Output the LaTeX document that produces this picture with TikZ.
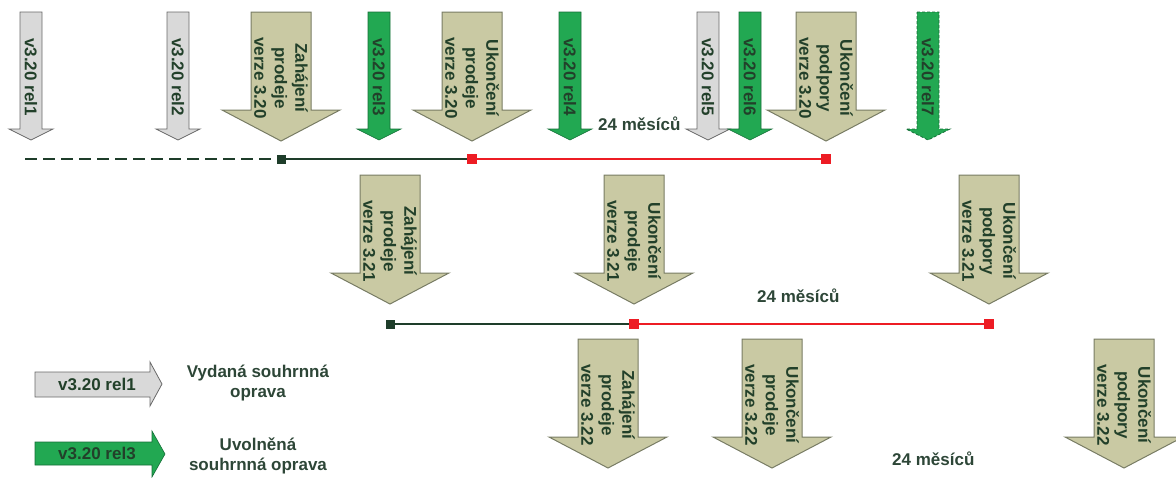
\documentclass[tikz,border=0pt]{standalone}
\usepackage{fontspec}
\setmainfont{Liberation Sans}
\definecolor{tanfill}{RGB}{201,201,163}
\definecolor{tanedge}{RGB}{120,124,100}
\definecolor{relgreen}{RGB}{34,168,82}
\definecolor{greenedge}{RGB}{20,110,55}
\definecolor{relgray}{RGB}{217,217,217}
\definecolor{grayedge}{RGB}{105,105,105}
\definecolor{lineDark}{RGB}{30,61,42}
\definecolor{lineRed}{RGB}{237,28,36}
\definecolor{txt}{RGB}{34,64,42}
\definecolor{labeltxt}{RGB}{45,70,55}
\tikzset{
  every node/.style={font=\bfseries\fontsize{17}{20.5}\selectfont},
  arrowtext/.style={rotate=-90, text=txt, align=center, inner sep=0pt},
  tanbody/.style={fill=tanfill, draw=tanedge, line width=1pt, line join=miter},
  graybody/.style={fill=relgray, draw=grayedge, line width=0.8pt},
  greenbody/.style={fill=relgreen, draw=greenedge, line width=0.6pt},
  dashgreen/.style={fill=relgreen, draw=greenedge, line width=0.8pt, dash pattern=on 3pt off 2pt},
  darksq/.style={rectangle, fill=lineDark, minimum size=9pt, inner sep=0pt},
  redsq/.style={rectangle, fill=lineRed, minimum size=10pt, inner sep=0pt},
  darkline/.style={draw=lineDark, line width=2.6pt},
  redline/.style={draw=lineRed, line width=2.6pt},
  months/.style={text=labeltxt, inner sep=0pt},
  legendtxt/.style={text=labeltxt, align=center, inner sep=0pt},
  % wide milestone arrow, origin at the top centre of the shaft
  pics/milestone/.style={code={
    \path[tanbody] (-30,0) -- (30,0) -- (30,98) -- (59,98) -- (0,129)
      -- (-59,98) -- (-30,98) -- cycle;
    \node[arrowtext] (-t) at (0,66) {#1};
  }},
  % narrow release arrow; first argument is the body style
  pics/release/.style 2 args={code={
    \path[#1] (-11,0) -- (11,0) -- (11,117) -- (22,117) -- (0,128)
      -- (-22,117) -- (-11,117) -- cycle;
    \node[arrowtext] (-t) at (0,65) {#2};
  }},
}
\begin{document}
\begin{tikzpicture}[x=1pt, y=-1pt]
\useasboundingbox (0,0) rectangle (1176,477);

% ---- version 3.20 ----
\pic (r1) at (31,12) {release={graybody}{v3.20 rel1}};
\pic (r2) at (178,12) {release={graybody}{v3.20 rel2}};
\pic (s320) at (281,12) {milestone={Zahájení\\prodeje\\verze 3.20}};
\pic (r3) at (379,12) {release={greenbody}{v3.20 rel3}};
\pic (e320) at (472,12) {milestone={Ukončení\\prodeje\\verze 3.20}};
\pic (r4) at (570,12) {release={greenbody}{v3.20 rel4}};
\pic (r5) at (708,12) {release={graybody}{v3.20 rel5}};
\pic (r6) at (750,12) {release={greenbody}{v3.20 rel6}};
\pic (p320) at (826,12) {milestone={Ukončení\\podpory\\verze 3.20}};
\pic (r7) at (928,12) {release={dashgreen}{v3.20 rel7}};
\node[months, anchor=west] (m1) at (598,124) {24 měsíců};

\coordinate (a0) at (25,159);
\node[darksq] (a1) at (281,159) {};
\node[redsq] (a2) at (472,159) {};
\node[redsq] (a3) at (826,159) {};
\draw[draw=lineDark, line width=2.6pt, dash pattern=on 12pt off 6pt] (a0) -- (a1);
\draw[darkline] (a1) -- (a2);
\draw[redline] (a2) -- (a3);

% ---- version 3.21 ----
\pic (s321) at (390,175) {milestone={Zahájení\\prodeje\\verze 3.21}};
\pic (e321) at (634,175) {milestone={Ukončení\\prodeje\\verze 3.21}};
\pic (p321) at (989,175) {milestone={Ukončení\\podpory\\verze 3.21}};
\node[months, anchor=west] (m2) at (757,296) {24 měsíců};

\node[darksq] (b1) at (390,324) {};
\node[redsq] (b2) at (634,324) {};
\node[redsq] (b3) at (989,324) {};
\draw[darkline] (b1) -- (b2);
\draw[redline] (b2) -- (b3);

% ---- version 3.22 ----
\pic (s322) at (608,339) {milestone={Zahájení\\prodeje\\verze 3.22}};
\pic (e322) at (772,339) {milestone={Ukončení\\prodeje\\verze 3.22}};
\pic (p322) at (1124,339) {milestone={Ukončení\\podpory\\verze 3.22}};
\node[months, anchor=west] (m3) at (892,459) {24 měsíců};

% ---- legend ----
\path[graybody] (35,372) -- (150,372) -- (150,362) -- (162,384) -- (150,406)
  -- (150,397) -- (35,397) -- cycle;
\node[text=txt, inner sep=0pt] (lg1) at (97,384.5) {v3.20 rel1};
\node[legendtxt] (lt1) at (258,383) {Vydaná souhrnná\\oprava};

\path[greenbody] (35,442) -- (152,442) -- (152,431) -- (165,454) -- (152,477)
  -- (152,465) -- (35,465) -- cycle;
\node[text=txt, inner sep=0pt] (lg2) at (97,453.5) {v3.20 rel3};
\node[legendtxt] (lt2) at (258,456) {Uvolněná\\souhrnná oprava};
\end{tikzpicture}
\end{document}
